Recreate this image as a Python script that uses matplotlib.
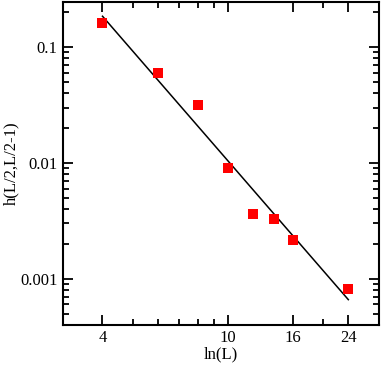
import matplotlib
matplotlib.use("Agg")
import matplotlib.pyplot as plt
from matplotlib.ticker import FixedLocator, FixedFormatter, LogLocator, NullFormatter

plt.rcParams.update({"font.family": "Liberation Serif", "font.size": 12})

# data
L_vals = [4, 6, 8, 10, 12, 14, 16, 24]
h_vals = [0.160, 0.060, 0.0316, 0.0091, 0.0036, 0.00325, 0.00216, 0.00082]

# power-law fit line (endpoints)
fit_x = [4, 24]
fit_y = [0.184, 0.00066]

x_ticks = [4, 10, 16, 24]
x_minor = [5, 6, 7, 8, 9, 20]
y_ticks = [0.001, 0.01, 0.1]
y_labels = ["0.001", "0.01", "0.1"]

fig = plt.figure(figsize=(3.82, 3.65), dpi=100)
ax = fig.add_axes([0.165, 0.110, 0.827, 0.885])

ax.plot(fit_x, fit_y, color="black", linewidth=1.1, zorder=2)
ax.plot(L_vals, h_vals, linestyle="none", marker="s", markersize=7,
        color="#ff0000", markeredgewidth=0, zorder=3)

ax.set_xscale("log")
ax.set_yscale("log")
ax.set_xlim(3, 30)
ax.set_ylim(0.0004, 0.245)

ax.xaxis.set_major_locator(FixedLocator(x_ticks))
ax.xaxis.set_major_formatter(FixedFormatter([str(t) for t in x_ticks]))
ax.xaxis.set_minor_locator(FixedLocator(x_minor))
ax.xaxis.set_minor_formatter(NullFormatter())
ax.yaxis.set_major_locator(FixedLocator(y_ticks))
ax.yaxis.set_major_formatter(FixedFormatter(y_labels))
ax.yaxis.set_minor_locator(LogLocator(base=10, subs=range(2, 10)))
ax.yaxis.set_minor_formatter(NullFormatter())

ax.tick_params(which="both", direction="in", top=True, right=True, width=1.3)
ax.tick_params(which="major", length=7, pad=4)
ax.tick_params(which="minor", length=4)
for s in ax.spines.values():
    s.set_linewidth(1.5)

ax.set_xlabel("ln(L)", labelpad=0)
ax.set_ylabel("h(L/2,L/2-1)")
ax.yaxis.set_label_coords(-0.138, 0.5)

fig.savefig("out.png", dpi=100)
